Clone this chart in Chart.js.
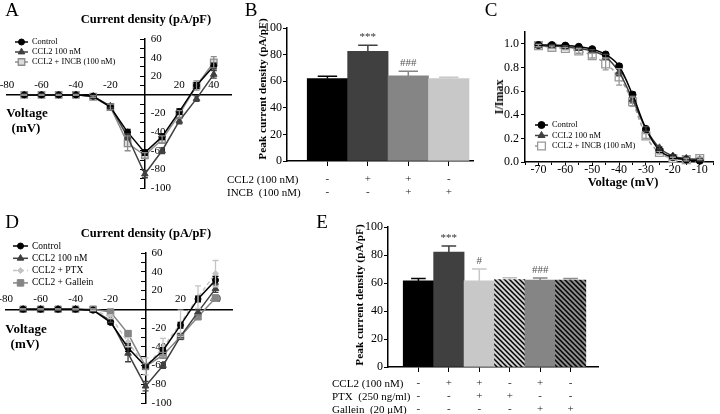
<!DOCTYPE html>
<html>
<head>
<meta charset="utf-8">
<script src="https://cdn.jsdelivr.net/npm/chart.js@4"></script>
<style>
  html, body { margin: 0; padding: 0; background: #fff; }
  #fig { position: relative; width: 720px; height: 414px; overflow: hidden;
         font-family: 'Liberation Serif', 'Times New Roman', serif; color: #000; }
  #fig canvas { position: absolute; left: 0; top: 0; }
  .t { position: absolute; white-space: pre; line-height: 1; transform: translate(-50%, -50%); }
  .b { font-weight: bold; }
  .rot { transform: translate(-50%, -50%) rotate(-90deg); }
  .row { position: absolute; white-space: pre; line-height: 1; font-size: 11px; transform: translateY(-50%); }
  .lt { font-size: 19px; }
</style>
</head>
<body>
<div id="fig">
  <canvas id="cA" width="720" height="414"></canvas>
  <canvas id="cB" width="720" height="414"></canvas>
  <canvas id="cC" width="720" height="414"></canvas>
  <canvas id="cD" width="720" height="414"></canvas>
  <canvas id="cE" width="720" height="414"></canvas>

  <!-- panel letters -->
  <div class="t lt" style="left:12px;top:9px">A</div>
  <div class="t lt" style="left:251px;top:9px">B</div>
  <div class="t lt" style="left:491px;top:9px">C</div>
  <div class="t lt" style="left:12px;top:221px">D</div>
  <div class="t lt" style="left:322px;top:221px">E</div>

  <!-- A -->
  <div class="t b" style="left:146px;top:19px;font-size:12.5px">Current density (pA/pF)</div>
  <div class="t b" style="left:27px;top:112px;font-size:13px">Voltage</div>
  <div class="t b" style="left:26px;top:127px;font-size:13px">(mV)</div>

  <!-- B -->
  <div class="t b rot" style="left:263px;top:89px;font-size:11.3px">Peak current density (pA/pF)</div>
  <div class="row" style="left:227px;top:179px">CCL2 (100 nM)</div>
  <div class="row" style="left:227px;top:192px">INCB  (100 nM)</div>

  <!-- C -->
  <div class="t b rot" style="left:499px;top:97px;font-size:12px">I/Imax</div>
  <div class="t b" style="left:623px;top:182px;font-size:12.5px">Voltage (mV)</div>

  <!-- D -->
  <div class="t b" style="left:146px;top:233px;font-size:12.5px">Current density (pA/pF)</div>
  <div class="t b" style="left:26px;top:328px;font-size:13px">Voltage</div>
  <div class="t b" style="left:25px;top:343px;font-size:13px">(mV)</div>

  <!-- E -->
  <div class="t b rot" style="left:360px;top:295px;font-size:11.3px">Peak current density (pA/pF)</div>
  <div class="row" style="left:332px;top:383px">CCL2 (100 nM)</div>
  <div class="row" style="left:332px;top:396px">PTX  (250 ng/ml)</div>
  <div class="row" style="left:332px;top:409px">Gallein  (20 μM)</div>
</div>

<script>
// ── DATA: I-V curves (A, D) ───────────────────────────────────────────────────
const IV_VOLT     = [-70, -60, -50, -40, -30, -20, -10, 0, 10, 20, 30, 40];
const IV_X_LABELS = [-80, -60, -40, -20, 20, 40];
const IV_Y_LABELS = [60, 40, 20, -20, -40, -60, -80, -100];

const A_CTRL      = [0, 0, 0, 0, -1.5, -13, -40, -62, -45, -18, 10, 31];
const A_CTRL_ERR  = [0.5, 0.5, 0.5, 0.5, 1, 2, 3, 3, 3, 3, 3, 3];
const A_CCL2      = [0, 0, 0, 0, -1.5, -12, -45, -85, -60, -28, -4, 22];
const A_CCL2_ERR  = [0.5, 0.5, 0.5, 0.5, 1, 2, 3, 4, 3, 3, 3, 4];
const A_INCB      = [0, 0, 0, 0, -2, -13, -52, -65, -48, -21, 10, 35];
const A_INCB_ERR  = [0.5, 0.5, 0.5, 0.5, 1, 3, 8, 3, 4, 4, 5, 6];

const D_CTRL      = [0, 0, 0, 0, -1, -14, -41, -61, -44, -17, 11, 31];
const D_CTRL_ERR  = [0.5, 0.5, 0.5, 0.5, 1, 2, 4, 3, 3, 3, 3, 4];
const D_CCL2      = [0, 0, 0, 0, -1, -12, -47, -82, -60, -29, -3, 22];
const D_CCL2_ERR  = [0.5, 0.5, 0.5, 0.5, 1, 2, 9, 5, 3, 3, 3, 4];
const D_PTX       = [0, 0, 0, 0, -0.5, -8, -35, -61, -41, -15, 13, 38];
const D_PTX_ERR   = [0.5, 0.5, 0.5, 0.5, 1, 2, 5, 9, 10, 14, 12, 14];
const D_GALL      = [0, 0, 0, 0, 0, -3, -26, -61, -49, -29, -8, 12];
const D_GALL_ERR  = [0.5, 0.5, 0.5, 0.5, 0.5, 1, 3, 3, 3, 2, 2, 3];

// ── DATA: inactivation (C) ────────────────────────────────────────────────────
const INACT_VOLT  = [-70, -65, -60, -55, -50, -45, -40, -35, -30, -25, -20, -15, -10];
const C_CTRL      = [0.99, 0.99, 0.985, 0.975, 0.955, 0.91, 0.81, 0.57, 0.28, 0.10, 0.04, 0.02, 0.01];
const C_CTRL_ERR  = [0.01, 0.01, 0.01, 0.01, 0.01, 0.01, 0.02, 0.02, 0.02, 0.01, 0.01, 0.01, 0.01];
const C_CCL2      = [0.985, 0.98, 0.975, 0.96, 0.94, 0.89, 0.76, 0.53, 0.28, 0.12, 0.05, 0.03, 0.02];
const C_CCL2_ERR  = [0.01, 0.01, 0.01, 0.01, 0.01, 0.02, 0.03, 0.03, 0.02, 0.01, 0.01, 0.01, 0.01];
const C_INCB      = [0.985, 0.97, 0.96, 0.94, 0.90, 0.83, 0.72, 0.51, 0.22, 0.08, 0.03, 0.02, 0.03];
const C_INCB_ERR  = [0.01, 0.01, 0.01, 0.02, 0.02, 0.05, 0.07, 0.04, 0.02, 0.01, 0.01, 0.01, 0.01];

// ── DATA: peak current bars (B, E) ────────────────────────────────────────────
const B_VALUES = [62, 82.5, 64, 62];
const B_ERR    = [1.8, 4.5, 3.5, 1];
const B_NOTES  = ['', '***', '###', ''];
const B_CCL2   = ['-', '+', '+', '-'];
const B_INCB   = ['-', '-', '+', '+'];

const E_VALUES = [61.5, 82, 61.5, 62.5, 62, 62];
const E_ERR    = [1.8, 4.5, 8.5, 1.2, 1.6, 1.2];
const E_NOTES  = ['', '***', '#', '', '###', ''];
const E_CCL2   = ['-', '+', '+', '-', '+', '-'];
const E_PTX    = ['-', '-', '+', '+', '-', '-'];
const E_GALL   = ['-', '-', '-', '-', '+', '+'];

// ── DEFAULTS ──────────────────────────────────────────────────────────────────
const FONT = "'Liberation Serif', 'Times New Roman', serif";
Chart.defaults.font.family = FONT;
Chart.defaults.color = '#000';
Chart.defaults.animation = false;
Chart.defaults.plugins.legend.display = false;
Chart.defaults.plugins.tooltip.enabled = false;

// ── PLUGINS ───────────────────────────────────────────────────────────────────
// error bars from dataset.errors (bars: upward only, lines: both ways)
const errorBars = {
  id: 'errorBars',
  afterDatasetsDraw(chart, args, opts) {
    const { ctx } = chart;
    const ys = chart.scales.y;
    chart.data.datasets.forEach((ds, di) => {
      if (!ds.errors) return;
      const meta = chart.getDatasetMeta(di);
      ctx.save();
      ctx.lineWidth = opts.width || 1.3;
      meta.data.forEach((el, i) => {
        const err = ds.errors[i];
        if (!err) return;
        const v = ds.data[i].y;
        ctx.strokeStyle = Array.isArray(ds.errorColor) ? ds.errorColor[i] : (ds.errorColor || ds.borderColor);
        const cap = opts.bar ? el.width * 0.24 : opts.cap;
        const yTop = ys.getPixelForValue(v + err);
        const yBot = opts.bar ? el.y : ys.getPixelForValue(v - err);
        ctx.beginPath();
        ctx.moveTo(el.x, yTop); ctx.lineTo(el.x, yBot);
        ctx.moveTo(el.x - cap, yTop); ctx.lineTo(el.x + cap, yTop);
        if (!opts.bar) { ctx.moveTo(el.x - cap, yBot); ctx.lineTo(el.x + cap, yBot); }
        ctx.stroke();
      });
      ctx.restore();
    });
  }
};

// significance marks above the error bars
const barNotes = {
  id: 'barNotes',
  afterDatasetsDraw(chart, args, opts) {
    const { ctx } = chart;
    const ds = chart.data.datasets[0];
    const meta = chart.getDatasetMeta(0);
    ctx.save();
    ctx.font = `${opts.size}px ${FONT}`;
    ctx.textAlign = 'center';
    ctx.textBaseline = 'middle';
    meta.data.forEach((el, i) => {
      if (!ds.notes[i]) return;
      ctx.fillStyle = opts.colors[i] || '#333';
      const top = chart.scales.y.getPixelForValue(ds.data[i].y + ds.errors[i]);
      ctx.fillText(ds.notes[i], el.x, top - opts.gap);
    });
    ctx.restore();
  }
};

// tick labels for axes that cross at the origin
const crossLabels = {
  id: 'crossLabels',
  beforeDatasetsDraw(chart, args, opts) {
    const { ctx, scales: { x, y } } = chart;
    const x0 = x.getPixelForValue(0), y0 = y.getPixelForValue(0);
    ctx.save();
    ctx.fillStyle = '#000';
    ctx.font = `${opts.size}px ${FONT}`;
    ctx.textBaseline = 'middle';
    ctx.textAlign = 'center';
    opts.xLabels.forEach(v => ctx.fillText(String(v), x.getPixelForValue(v), y0 - opts.xGap));
    ctx.textAlign = 'left';
    opts.yLabels.forEach(v => ctx.fillText(String(v), x0 + opts.yGap, y.getPixelForValue(v)));
    ctx.restore();
  }
};

function marker(ctx, ds, x, y) {
  ctx.fillStyle = ds.pointBackgroundColor;
  ctx.strokeStyle = ds.pointBorderColor;
  ctx.lineWidth = ds.pointBorderWidth;
  Chart.helpers.drawPoint(ctx, { pointStyle: ds.pointStyle, radius: ds.pointRadius, rotation: 0, borderWidth: ds.pointBorderWidth }, x, y);
}

// small legend placed freely inside the panel
const freeLegend = {
  id: 'freeLegend',
  afterDraw(chart, args, opts) {
    const { ctx } = chart;
    chart.data.datasets.forEach((ds, i) => {
      const y = opts.y + i * opts.gap;
      ctx.save();
      ctx.strokeStyle = ds.borderColor;
      ctx.lineWidth = ds.borderWidth;
      ctx.setLineDash(ds.borderDash || []);
      ctx.beginPath(); ctx.moveTo(opts.x, y); ctx.lineTo(opts.x + opts.len, y); ctx.stroke();
      ctx.setLineDash([]);
      marker(ctx, ds, opts.x + opts.len / 2, y);
      ctx.fillStyle = '#000';
      ctx.font = `${opts.size}px ${FONT}`;
      ctx.textBaseline = 'middle';
      ctx.textAlign = 'left';
      ctx.fillText(ds.label, opts.x + opts.len + 4, y);
      ctx.restore();
    });
  }
};

// ── STYLES ────────────────────────────────────────────────────────────────────
const ST_CTRL = { borderColor: '#000', pointStyle: 'circle', pointRadius: 3, pointBackgroundColor: '#000', pointBorderColor: '#000', pointBorderWidth: 1 };
const ST_CCL2 = { borderColor: '#404040', pointStyle: 'triangle', pointRadius: 3.8, pointBackgroundColor: '#404040', pointBorderColor: '#404040', pointBorderWidth: 1 };
const ST_INCB = { borderColor: '#8c8c8c', pointStyle: 'rect', pointRadius: 4.6, pointBackgroundColor: '#dcdcdc', pointBorderColor: '#8c8c8c', pointBorderWidth: 1.3 };
const ST_PTX  = { borderColor: '#c4c4c4', borderDash: [4, 3], pointStyle: 'rectRot', pointRadius: 3, pointBackgroundColor: '#c4c4c4', pointBorderColor: '#c4c4c4', pointBorderWidth: 1 };
const ST_GALL = { borderColor: '#858585', pointStyle: 'rect', pointRadius: 4.6, pointBackgroundColor: '#858585', pointBorderColor: '#858585', pointBorderWidth: 1 };

function series(label, xs, ys, errs, style, extra) {
  return Object.assign({
    label,
    data: xs.map((v, i) => ({ x: v, y: ys[i] })),
    errors: errs,
    borderWidth: 1.5,
    tension: 0,
    clip: false
  }, style, extra || {});
}

function hatch(bg) {
  const c = document.createElement('canvas');
  c.width = c.height = 5;
  const g = c.getContext('2d');
  g.fillStyle = bg; g.fillRect(0, 0, 5, 5);
  g.strokeStyle = '#000'; g.lineWidth = 1.5;
  g.beginPath();
  g.moveTo(-1, -1); g.lineTo(6, 6);
  g.moveTo(-1, 4); g.lineTo(1, 6);
  g.moveTo(4, -1); g.lineTo(6, 1);
  g.stroke();
  return g.createPattern(c, 'repeat');
}

const AXIS = { color: '#000', width: 1.5 };

// ── I-V CHART (A, D) ──────────────────────────────────────────────────────────
function ivChart(id, sets, area, legend) {
  return new Chart(document.getElementById(id), {
    type: 'line',
    data: { datasets: sets },
    options: {
      responsive: false,
      layout: { padding: area },
      scales: {
        x: { type: 'linear', min: -80, max: 50, position: { y: 0 },
             ticks: { display: false, stepSize: 10 },
             grid: { drawOnChartArea: false, drawTicks: false }, border: AXIS },
        y: { type: 'linear', min: -100, max: 60, position: { x: 0 },
             ticks: { display: false, stepSize: 10 },
             grid: { drawOnChartArea: false, tickLength: 4, color: '#000' }, border: AXIS }
      },
      plugins: {
        crossLabels: { xLabels: IV_X_LABELS, yLabels: IV_Y_LABELS, size: 11, xGap: 10, yGap: 6 },
        errorBars: { cap: 3 },
        freeLegend: legend
      }
    },
    plugins: [crossLabels, errorBars, freeLegend]
  });
}

ivChart('cA', [
  series('Control', IV_VOLT, A_CTRL, A_CTRL_ERR, ST_CTRL),
  series('CCL2 100 nM', IV_VOLT, A_CCL2, A_CCL2_ERR, ST_CCL2),
  series('CCL2 + INCB (100 nM)', IV_VOLT, A_INCB, A_INCB_ERR, ST_INCB)
], { left: 7, top: 39, right: 720 - 231, bottom: 414 - 188 },
   { x: 15, y: 42, gap: 10, len: 13, size: 8.4 });

ivChart('cD', [
  series('Control', IV_VOLT, D_CTRL, D_CTRL_ERR, ST_CTRL),
  series('CCL2 100 nM', IV_VOLT, D_CCL2, D_CCL2_ERR, ST_CCL2),
  series('CCL2 + PTX', IV_VOLT, D_PTX, D_PTX_ERR, ST_PTX),
  series('CCL2 + Gallein', IV_VOLT, D_GALL, D_GALL_ERR, ST_GALL)
], { left: 4, top: 253, right: 720 - 233, bottom: 414 - 403 },
   { x: 13, y: 246, gap: 12.3, len: 15, size: 9.5 });

// ── INACTIVATION CHART (C) ────────────────────────────────────────────────────
new Chart(document.getElementById('cC'), {
  type: 'line',
  data: { datasets: [
    series('Control', INACT_VOLT, C_CTRL, C_CTRL_ERR, ST_CTRL, { pointRadius: 3.5, cubicInterpolationMode: 'monotone' }),
    series('CCL2 100 nM', INACT_VOLT, C_CCL2, C_CCL2_ERR, ST_CCL2, { pointRadius: 4, cubicInterpolationMode: 'monotone' }),
    series('CCL2 + INCB (100 nM)', INACT_VOLT, C_INCB, C_INCB_ERR, ST_INCB,
      { borderColor: '#999', borderDash: [4, 3], pointRadius: 5.5, pointBackgroundColor: '#fff', pointBorderColor: '#999', cubicInterpolationMode: 'monotone' })
  ] },
  options: {
    responsive: false,
    layout: { padding: { left: 480, top: 32, right: 0, bottom: 414 - 162 - 30 } },
    scales: {
      x: { type: 'linear', min: -75, max: -5,
           ticks: { stepSize: 5, autoSkip: false, maxRotation: 0, padding: -2, font: { size: 12 },
                    callback: v => (v % 10 === 0 ? v : '') },
           grid: { drawOnChartArea: false, tickLength: 3, color: '#000' }, border: AXIS,
           afterFit: s => { s.height = 30; } },
      y: { min: 0, max: 1.1,
           ticks: { stepSize: 0.1, padding: 2, font: { size: 12 },
                    callback: v => (Math.round(v * 10) % 2 === 0 ? v.toFixed(1) : '') },
           grid: { drawOnChartArea: false, tickLength: 4, color: '#000' }, border: AXIS,
           afterFit: s => { s.width = 45; } }
    },
    plugins: {
      errorBars: { cap: 3 },
      freeLegend: { x: 535, y: 125, gap: 10.5, len: 13, size: 8.4 }
    }
  },
  plugins: [errorBars, freeLegend]
});

// ── BAR CHART (B, E) ──────────────────────────────────────────────────────────
function barChart(id, values, errors, notes, rows, colors, errColors, noteColors, xMax, area, xHeight, rowPad) {
  const pos = values.map((_, i) => i + 1);
  return new Chart(document.getElementById(id), {
    type: 'bar',
    data: { datasets: [{
      data: values.map((v, i) => ({ x: pos[i], y: v })),
      errors, notes, errorColor: errColors,
      backgroundColor: colors, borderWidth: 0,
      barPercentage: 1, categoryPercentage: 1
    }] },
    options: {
      responsive: false,
      layout: { padding: area },
      scales: {
        x: { type: 'linear', min: 0, max: xMax, offset: false,
             afterBuildTicks: s => { s.ticks = pos.map(v => ({ value: v })); },
             ticks: { autoSkip: false, maxRotation: 0, padding: rowPad, color: '#222',
                      font: { size: 11, lineHeight: 13 / 11 },
                      callback: (v, i) => rows.map(r => r[i]) },
             grid: { offset: false, drawOnChartArea: false, tickLength: 5, color: '#000' }, border: AXIS,
             afterFit: s => { s.height = xHeight; } },
        y: { min: 0, max: 100,
             ticks: { stepSize: 10, padding: 1, font: { size: 12 }, callback: v => (v % 20 === 0 ? v : '') },
             grid: { drawOnChartArea: false, tickLength: 4, color: '#000' }, border: AXIS,
             afterFit: s => { s.width = 47; } }
      },
      plugins: {
        errorBars: { bar: true, width: 1.5 },
        barNotes: { size: 11, gap: 8, colors: noteColors }
      }
    },
    plugins: [errorBars, barNotes]
  });
}

barChart('cB', B_VALUES, B_ERR, B_NOTES, [B_CCL2, B_INCB],
  ['#000', '#404040', '#858585', '#c8c8c8'],
  ['#000', '#404040', '#858585', '#c8c8c8'],
  ['', '#333', '#555', ''],
  4.6, { left: 240, top: 28, right: 720 - 473, bottom: 414 - 161 - 40 }, 40, 7);

barChart('cE', E_VALUES, E_ERR, E_NOTES, [E_CCL2, E_PTX, E_GALL],
  ['#000', '#404040', '#c8c8c8', hatch('#d2d2d2'), '#858585', hatch('#8c8c8c')],
  ['#000', '#404040', '#c8c8c8', '#c0c0c0', '#858585', '#8c8c8c'],
  ['', '#333', '#555', '', '#555', ''],
  6.9, { left: 341, top: 227, right: 720 - 598, bottom: 0 }, 414 - 367, 5);
</script>
</body>
</html>
